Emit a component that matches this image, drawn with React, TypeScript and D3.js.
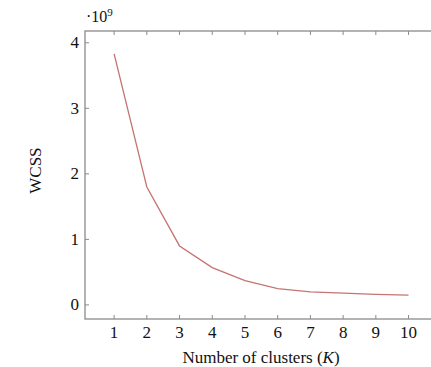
import React from "react";
import * as d3 from "d3";

const clusters = [1, 2, 3, 4, 5, 6, 7, 8, 9, 10];
const wcss = [3.83, 1.8, 0.9, 0.57, 0.37, 0.25, 0.2, 0.18, 0.16, 0.15];
const yTicks = [0, 1, 2, 3, 4];

const W = 431;
const H = 367;
const left = 85;
const right = 438;
const top = 31;
const bottom = 319;

export default function App() {
  const x = d3.scaleLinear().domain([0.11, 10.9]).range([left, right]);
  const y = d3.scaleLinear().domain([-0.215, 4.18]).range([bottom, top]);
  const line = d3
    .line<number>()
    .x((_, i) => x(clusters[i]))
    .y((d) => y(d));
  const axisColor = "#8a8a8a";
  const font = "'Liberation Serif', 'Times New Roman', serif";
  const tl = 4;
  const fs = 17;
  return (
    <svg
      width={W}
      height={H}
      style={{ position: "absolute", left: 0, top: 0, background: "#fff" }}
      fontFamily={font}
    >
      <rect x={left} y={top} width={right - left} height={bottom - top} fill="none" stroke={axisColor} strokeWidth={1.3} />
      {clusters.map((c) => (
        <g key={"xt" + c}>
          <line x1={x(c)} x2={x(c)} y1={bottom} y2={bottom - tl} stroke={axisColor} strokeWidth={1} />
          <line x1={x(c)} x2={x(c)} y1={top} y2={top + tl} stroke={axisColor} strokeWidth={1} />
          <text x={x(c)} y={338} textAnchor="middle" fontSize={fs} fill="#111">
            {c}
          </text>
        </g>
      ))}
      {yTicks.map((t) => (
        <g key={"yt" + t}>
          <line x1={left} x2={left + tl} y1={y(t)} y2={y(t)} stroke={axisColor} strokeWidth={1} />
          <line x1={right} x2={right - tl} y1={y(t)} y2={y(t)} stroke={axisColor} strokeWidth={1} />
          <text x={79} y={y(t) + 5.5} textAnchor="end" fontSize={fs} fill="#111">
            {t}
          </text>
        </g>
      ))}
      <path d={line(wcss) || ""} fill="none" stroke="#c47472" strokeWidth={1.3} />
      <text x={86} y={22} fontSize={16} fill="#111">
        ·10
        <tspan fontSize={11} dy={-6}>9</tspan>
      </text>
      <text
        transform={`translate(41, ${y(2.05)}) rotate(-90)`}
        textAnchor="middle"
        fontSize={fs}
        fill="#111"
      >
        WCSS
      </text>
      <text x={261} y={363} textAnchor="middle" fontSize={fs} fill="#111">
        Number of clusters (<tspan fontStyle="italic">K</tspan>)
      </text>
    </svg>
  );
}
